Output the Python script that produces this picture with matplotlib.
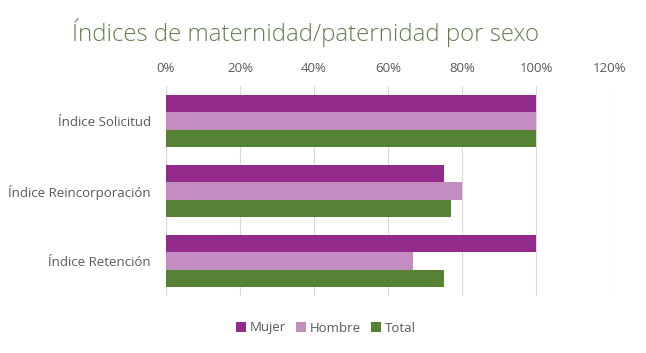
import matplotlib
matplotlib.use("Agg")
import matplotlib.pyplot as plt
import numpy as np
from matplotlib.ticker import FuncFormatter, MultipleLocator
from matplotlib.patches import Patch

categories = ["Índice Solicitud", "Índice Reincorporación", "Índice Retención"]
series_names = ["Mujer", "Hombre", "Total"]
mujer = [1.00, 0.75, 1.00]
hombre = [1.00, 0.80, 0.667]
total = [1.00, 0.77, 0.75]
colors = ["#922b8c", "#c38dc2", "#558234"]

plt.rcParams['font.family'] = ['Open Sans', 'DejaVu Sans']

W, H = 646, 353
fig = plt.figure(figsize=(W/100, H/100), dpi=100)
ax = fig.add_axes([166/W, 1-296/H, (610-166)/W, 210/H])

y = np.arange(len(categories))
bh = 0.248
for i, (vals, c) in enumerate(zip([mujer, hombre, total], colors)):
    ax.barh(y + (i-1)*bh, vals, height=bh, color=c, label=series_names[i], zorder=2)

ax.set_xlim(0, 1.2)
ax.set_ylim(2.5, -0.5)
ax.xaxis.set_major_locator(MultipleLocator(0.2))
ax.xaxis.set_major_formatter(FuncFormatter(lambda v, p: f"{v*100:.0f}%"))
ax.xaxis.tick_top()
ax.grid(axis='x', color='#d9d9d9', linewidth=0.8, zorder=0)
for s in ax.spines.values():
    s.set_visible(False)
ax.tick_params(axis='x', length=0, pad=8, labelsize=9.5, labelcolor='#595959')
ax.tick_params(axis='y', length=0, pad=11, labelsize=9.5, labelcolor='#595959')
ax.set_yticks(y)
ax.set_yticklabels(categories)

fig.text(72/W, 1-33/H, "Índices de maternidad/paternidad por sexo", fontsize=17.3,
         color='#62804a', va='center', ha='left', fontweight='light')

handles = [Patch(facecolor=c, edgecolor='none') for c in colors]
fig.legend(handles, series_names, loc='center', bbox_to_anchor=(326/W, 1-328/H),
           ncol=3, frameon=False, fontsize=9.5, labelcolor='#595959',
           handlelength=0.7, handleheight=0.7, handletextpad=0.3, columnspacing=0.8)

fig.savefig("out.png", dpi=100)
